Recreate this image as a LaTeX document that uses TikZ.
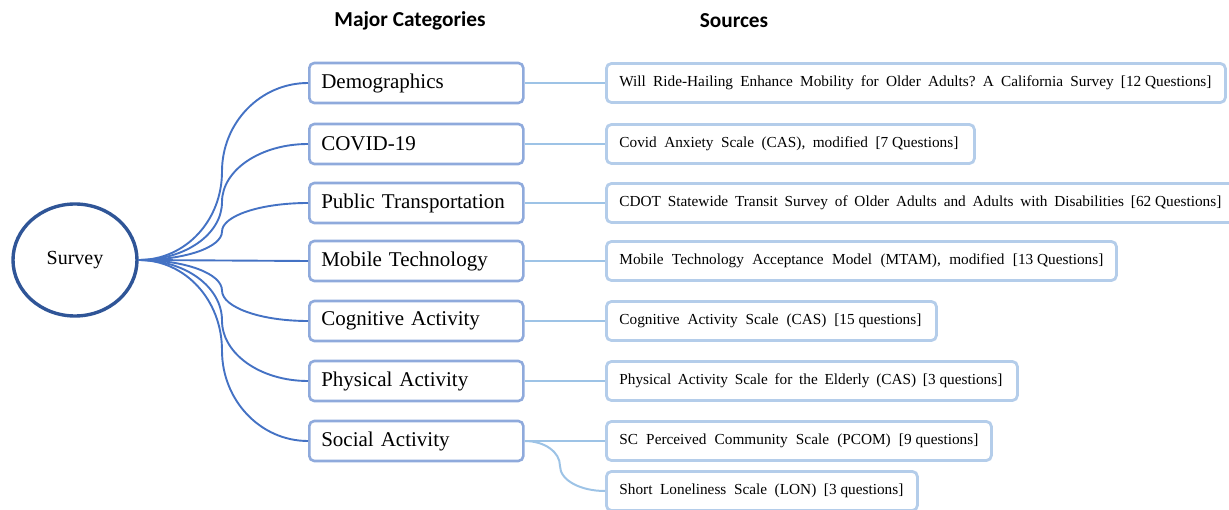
\documentclass[tikz,border=0pt]{standalone}
\usepackage{fontspec}
\usetikzlibrary{shapes.geometric}
\setmainfont{Liberation Serif}
\newfontfamily\headfont{Carlito}
\definecolor{ellblue}{HTML}{2F5597}
\definecolor{conblue}{HTML}{4472C4}
\definecolor{catborder}{HTML}{8FAADC}
\definecolor{srcborder}{HTML}{B4CDEA}
\definecolor{srcline}{HTML}{9DC3E6}
\newcommand{\stretchto}[2]{\hbox to #1{\frenchspacing\spaceskip=0.25em plus 1fil\relax #2}}
\newcommand{\fs}{\hspace{0.25em}}
\tikzset{
  catbox/.style={draw=catborder, line width=2.6pt, rounded corners=5pt, minimum width=214pt, minimum height=40pt, text width=190pt, align=left, inner xsep=12pt, inner ysep=0pt, font=\fontsize{21}{23}\selectfont, anchor=west},
  srcbox/.style={draw=srcborder, line width=2.8pt, rounded corners=5pt, minimum height=39pt, align=left, inner xsep=13pt, inner ysep=0pt, font=\fontsize{15.3}{17}\selectfont, anchor=west},
  conn/.style={draw=conblue, line width=1.9pt},
  sline/.style={draw=srcline, line width=2pt},
  head/.style={font=\headfont\bfseries\fontsize{21.3}{23}\selectfont}
}
\begin{document}
\begin{tikzpicture}[x=1pt,y=-1pt]
\useasboundingbox (0,0) rectangle (1229,510);
\node[head] (h1) at (410,21) {Major Categories};
\node[head] (h2) at (734,21) {Sources};
\node[draw=ellblue, line width=3.4pt, ellipse, minimum width=124pt, minimum height=112pt, font=\fontsize{20}{22}\selectfont, inner sep=0pt] (S) at (75,260) {Survey};
% categories
\node[catbox] (c1) at (308,83) {Demographics};
\node[catbox] (c2) at (308,144) {COVID-19};
\node[catbox] (c3) at (308,203) {Public Transportation};
\node[catbox] (c4) at (308,261) {Mobile Technology};
\node[catbox] (c5) at (308,321) {Cognitive Activity};
\node[catbox] (c6) at (308,381) {Physical Activity};
\node[catbox] (c7) at (308,441) {Social Activity};
% sources
\node[srcbox, minimum width=619pt, text width=593pt] (s1) at (605,83) {\stretchto{592pt}{Will Ride-Hailing Enhance Mobility for Older Adults? A California Survey [12\fs Questions]}};
\node[srcbox, minimum width=368pt, text width=342pt] (s2) at (605,144) {\stretchto{339pt}{Covid Anxiety Scale (CAS), modified [7\fs Questions]}};
\node[srcbox, minimum width=640pt, text width=614pt] (s3) at (605,203) {\stretchto{602pt}{CDOT Statewide Transit Survey of Older Adults and Adults with Disabilities [62\fs Questions]}};
\node[srcbox, minimum width=510pt, text width=484pt] (s4) at (605,261) {\stretchto{484pt}{Mobile Technology Acceptance Model (MTAM), modified [13\fs Questions]}};
\node[srcbox, minimum width=330pt, text width=304pt] (s5) at (605,321) {\stretchto{302pt}{Cognitive Activity Scale (CAS) [15\fs questions]}};
\node[srcbox, minimum width=411pt, text width=385pt] (s6) at (605,381) {\stretchto{383pt}{Physical Activity Scale for the Elderly (CAS) [3\fs questions]}};
\node[srcbox, minimum width=385pt, text width=359pt] (s7) at (605,441) {\stretchto{359pt}{SC Perceived Community Scale (PCOM) [9\fs questions]}};
\node[srcbox, minimum width=311pt, text width=285pt] (s8) at (605,491) {\stretchto{284pt}{Short Loneliness Scale (LON) [3\fs questions]}};
% connectors survey -> categories (two quarter-ellipse arcs meeting at x=222)
\draw[conn] (S.east) .. controls +(47,0) and (222,220.4) .. (222,171.5) .. controls (222,122.6) and +(-47.5,0) .. (c1.west);
\draw[conn] (S.east) .. controls +(47,0) and (222,234) .. (222,202) .. controls (222,170) and +(-47.5,0) .. (c2.west);
\draw[conn] (S.east) .. controls +(47,0) and (222,247.2) .. (222,231.5) .. controls (222,215.8) and +(-47.5,0) .. (c3.west);
\draw[conn] (S.east) -- (c4.west);
\draw[conn] (S.east) .. controls +(47,0) and (222,273.7) .. (222,290.5) .. controls (222,307.3) and +(-47.5,0) .. (c5.west);
\draw[conn] (S.east) .. controls +(47,0) and (222,287.1) .. (222,320.5) .. controls (222,353.9) and +(-47.5,0) .. (c6.west);
\draw[conn] (S.east) .. controls +(47,0) and (222,300.5) .. (222,350.5) .. controls (222,400.5) and +(-47.5,0) .. (c7.west);
% category -> source
\draw[sline] (c1.east) -- (s1.west);
\draw[sline] (c2.east) -- (s2.west);
\draw[sline] (c3.east) -- (s3.west);
\draw[sline] (c4.east) -- (s4.west);
\draw[sline] (c5.east) -- (s5.west);
\draw[sline] (c6.east) -- (s6.west);
\draw[sline] (c7.east) -- (s7.west);
\draw[sline] (c7.east) .. controls +(20,0) and (560,452) .. (560,466) .. controls (560,480) and +(-25,0) .. (s8.west);
\end{tikzpicture}
\end{document}
